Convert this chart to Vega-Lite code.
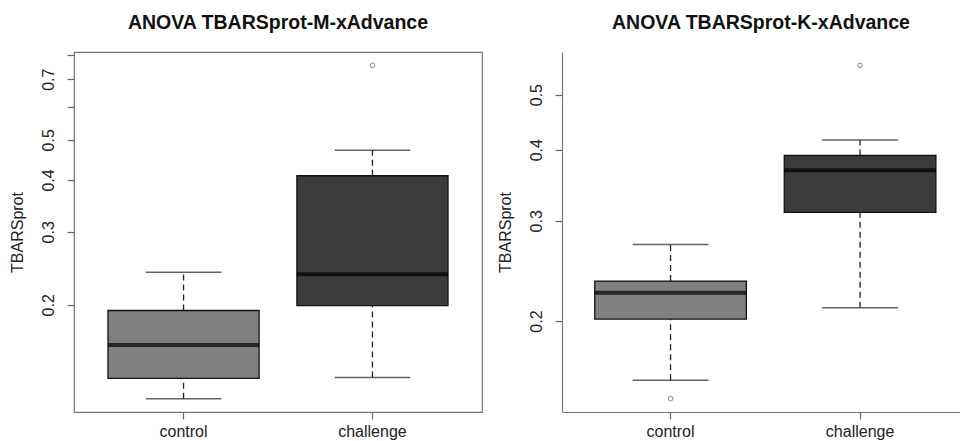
{
  "$schema": "https://vega.github.io/schema/vega-lite/v6.json",
  "background": "white",
  "padding": {"left": 8, "top": 11, "right": 0, "bottom": 0},
  "datasets": {
    "boxes": [
      {"panel": "M", "group": "control", "lo": 0.1188, "q1": 0.1330, "med": 0.1601, "q3": 0.1938, "hi": 0.2397},
      {"panel": "M", "group": "challenge", "lo": 0.1335, "q1": 0.1992, "med": 0.2371, "q3": 0.4095, "hi": 0.4721},
      {"panel": "K", "group": "control", "lo": 0.1574, "q1": 0.2016, "med": 0.2242, "q3": 0.2351, "hi": 0.2727},
      {"panel": "K", "group": "challenge", "lo": 0.2111, "q1": 0.3104, "med": 0.3682, "q3": 0.3908, "hi": 0.4162}
    ],
    "outliers": [
      {"panel": "M", "group": "challenge", "value": 0.756},
      {"panel": "K", "group": "control", "value": 0.1461},
      {"panel": "K", "group": "challenge", "value": 0.5629}
    ]
  },
  "config": {
    "font": "Liberation Sans",
    "view": {"stroke": null},
    "axis": {
      "labelFont": "Liberation Sans", "labelFontSize": 16, "labelColor": "#222",
      "titleFont": "Liberation Sans", "titleFontSize": 16, "titleFontWeight": "normal", "titleColor": "#222",
      "tickColor": "#666", "tickSize": 7, "tickWidth": 1.2, "grid": false, "domain": false,
      "domainColor": "#777", "domainWidth": 1.2
    },
    "axisX": {"labelAngle": 0, "labelPadding": 4},
    "axisY": {"labelAngle": 270, "labelAlign": "center", "labelBaseline": "bottom", "labelPadding": 11, "titlePadding": 15},
    "title": {"font": "Liberation Sans", "fontSize": 19.5, "fontWeight": "bold", "color": "#111", "anchor": "middle", "offset": 19}
  },
  "spacing": 14,
  "hconcat": [
    {
      "width": 408,
      "height": 360,
      "title": "ANOVA TBARSprot-M-xAdvance",
      "view": {"stroke": "#777", "strokeWidth": 1.2},
      "encoding": {
        "x": {"field": "group", "type": "nominal", "sort": ["control", "challenge"],
              "scale": {"type": "band", "domain": ["control", "challenge"], "paddingInner": 0.2, "paddingOuter": 0.18},
              "axis": {"title": null}}
      },
      "layer": [
        {
          "data": {"name": "boxes"}, "transform": [{"filter": "datum.panel === 'M'"}],
          "mark": {"type": "rule", "strokeDash": [6, 4], "color": "#222", "strokeWidth": 1.3},
          "encoding": {
            "y": {"field": "lo", "type": "quantitative", "scale": {"type": "log", "domain": [0.1103, 0.8141], "nice": false},
                  "axis": {"title": "TBARSprot", "values": [0.2, 0.3, 0.4, 0.5, 0.6, 0.7, 0.8], "format": ".1f",
                           "labelExpr": "(datum.value > 0.55 && datum.value < 0.65) || datum.value > 0.75 ? '' : datum.label"}},
            "y2": {"field": "q1"}
          }
        },
        {
          "data": {"name": "boxes"}, "transform": [{"filter": "datum.panel === 'M'"}],
          "mark": {"type": "rule", "strokeDash": [6, 4], "color": "#222", "strokeWidth": 1.3},
          "encoding": {
            "y": {"field": "q3", "type": "quantitative", "scale": {"type": "log", "domain": [0.1103, 0.8141], "nice": false},
                  "axis": {"title": "TBARSprot", "values": [0.2, 0.3, 0.4, 0.5, 0.6, 0.7, 0.8], "format": ".1f",
                           "labelExpr": "(datum.value > 0.55 && datum.value < 0.65) || datum.value > 0.75 ? '' : datum.label"}},
            "y2": {"field": "hi"}
          }
        },
        {
          "data": {"name": "boxes"}, "transform": [{"filter": "datum.panel === 'M'"}],
          "mark": {"type": "tick", "size": 75.6, "thickness": 1.5, "color": "#222"},
          "encoding": {
            "y": {"field": "lo", "type": "quantitative", "scale": {"type": "log", "domain": [0.1103, 0.8141], "nice": false},
                  "axis": {"title": "TBARSprot", "values": [0.2, 0.3, 0.4, 0.5, 0.6, 0.7, 0.8], "format": ".1f",
                           "labelExpr": "(datum.value > 0.55 && datum.value < 0.65) || datum.value > 0.75 ? '' : datum.label"}}
          }
        },
        {
          "data": {"name": "boxes"}, "transform": [{"filter": "datum.panel === 'M'"}],
          "mark": {"type": "tick", "size": 75.6, "thickness": 1.5, "color": "#222"},
          "encoding": {
            "y": {"field": "hi", "type": "quantitative", "scale": {"type": "log", "domain": [0.1103, 0.8141], "nice": false},
                  "axis": {"title": "TBARSprot", "values": [0.2, 0.3, 0.4, 0.5, 0.6, 0.7, 0.8], "format": ".1f",
                           "labelExpr": "(datum.value > 0.55 && datum.value < 0.65) || datum.value > 0.75 ? '' : datum.label"}}
          }
        },
        {
          "data": {"name": "boxes"}, "transform": [{"filter": "datum.panel === 'M'"}],
          "mark": {"type": "bar", "stroke": "#111", "strokeWidth": 1.3},
          "encoding": {
            "y": {"field": "q1", "type": "quantitative", "scale": {"type": "log", "domain": [0.1103, 0.8141], "nice": false},
                  "axis": {"title": "TBARSprot", "values": [0.2, 0.3, 0.4, 0.5, 0.6, 0.7, 0.8], "format": ".1f",
                           "labelExpr": "(datum.value > 0.55 && datum.value < 0.65) || datum.value > 0.75 ? '' : datum.label"}},
            "y2": {"field": "q3"},
            "fill": {"field": "group", "type": "nominal", "scale": {"domain": ["control", "challenge"], "range": ["#808080", "#3c3c3c"]}, "legend": null}
          }
        },
        {
          "data": {"name": "boxes"}, "transform": [{"filter": "datum.panel === 'M'"}],
          "mark": {"type": "tick", "size": 151.1, "thickness": 4, "color": "#000"},
          "encoding": {
            "y": {"field": "med", "type": "quantitative", "scale": {"type": "log", "domain": [0.1103, 0.8141], "nice": false},
                  "axis": {"title": "TBARSprot", "values": [0.2, 0.3, 0.4, 0.5, 0.6, 0.7, 0.8], "format": ".1f",
                           "labelExpr": "(datum.value > 0.55 && datum.value < 0.65) || datum.value > 0.75 ? '' : datum.label"}}
          }
        },
        {
          "data": {"name": "outliers"}, "transform": [{"filter": "datum.panel === 'M'"}],
          "mark": {"type": "point", "shape": "circle", "filled": false, "size": 22, "color": "#555", "strokeWidth": 1},
          "encoding": {
            "y": {"field": "value", "type": "quantitative", "scale": {"type": "log", "domain": [0.1103, 0.8141], "nice": false},
                  "axis": {"title": "TBARSprot", "values": [0.2, 0.3, 0.4, 0.5, 0.6, 0.7, 0.8], "format": ".1f",
                           "labelExpr": "(datum.value > 0.55 && datum.value < 0.65) || datum.value > 0.75 ? '' : datum.label"}}
          }
        }
      ]
    },
    {
      "width": 398,
      "height": 360,
      "title": "ANOVA TBARSprot-K-xAdvance",
      "encoding": {
        "x": {"field": "group", "type": "nominal", "sort": ["control", "challenge"],
              "scale": {"type": "band", "domain": ["control", "challenge"], "paddingInner": 0.2, "paddingOuter": 0.15, "align": 0.576},
              "axis": {"title": null, "domain": true}}
      },
      "layer": [
        {
          "data": {"name": "boxes"}, "transform": [{"filter": "datum.panel === 'K'"}],
          "mark": {"type": "rule", "strokeDash": [6, 4], "color": "#222", "strokeWidth": 1.3},
          "encoding": {
            "y": {"field": "lo", "type": "quantitative", "scale": {"type": "log", "domain": [0.1384, 0.5941], "nice": false},
                  "axis": {"title": "TBARSprot", "values": [0.2, 0.3, 0.4, 0.5], "format": ".1f", "domain": true}},
            "y2": {"field": "q1"}
          }
        },
        {
          "data": {"name": "boxes"}, "transform": [{"filter": "datum.panel === 'K'"}],
          "mark": {"type": "rule", "strokeDash": [6, 4], "color": "#222", "strokeWidth": 1.3},
          "encoding": {
            "y": {"field": "q3", "type": "quantitative", "scale": {"type": "log", "domain": [0.1384, 0.5941], "nice": false},
                  "axis": {"title": "TBARSprot", "values": [0.2, 0.3, 0.4, 0.5], "format": ".1f", "domain": true}},
            "y2": {"field": "hi"}
          }
        },
        {
          "data": {"name": "boxes"}, "transform": [{"filter": "datum.panel === 'K'"}],
          "mark": {"type": "tick", "size": 75.8, "thickness": 1.5, "color": "#222"},
          "encoding": {
            "y": {"field": "lo", "type": "quantitative", "scale": {"type": "log", "domain": [0.1384, 0.5941], "nice": false},
                  "axis": {"title": "TBARSprot", "values": [0.2, 0.3, 0.4, 0.5], "format": ".1f", "domain": true}}
          }
        },
        {
          "data": {"name": "boxes"}, "transform": [{"filter": "datum.panel === 'K'"}],
          "mark": {"type": "tick", "size": 75.8, "thickness": 1.5, "color": "#222"},
          "encoding": {
            "y": {"field": "hi", "type": "quantitative", "scale": {"type": "log", "domain": [0.1384, 0.5941], "nice": false},
                  "axis": {"title": "TBARSprot", "values": [0.2, 0.3, 0.4, 0.5], "format": ".1f", "domain": true}}
          }
        },
        {
          "data": {"name": "boxes"}, "transform": [{"filter": "datum.panel === 'K'"}],
          "mark": {"type": "bar", "stroke": "#111", "strokeWidth": 1.3},
          "encoding": {
            "y": {"field": "q1", "type": "quantitative", "scale": {"type": "log", "domain": [0.1384, 0.5941], "nice": false},
                  "axis": {"title": "TBARSprot", "values": [0.2, 0.3, 0.4, 0.5], "format": ".1f", "domain": true}},
            "y2": {"field": "q3"},
            "fill": {"field": "group", "type": "nominal", "scale": {"domain": ["control", "challenge"], "range": ["#808080", "#3c3c3c"]}, "legend": null}
          }
        },
        {
          "data": {"name": "boxes"}, "transform": [{"filter": "datum.panel === 'K'"}],
          "mark": {"type": "tick", "size": 151.6, "thickness": 4, "color": "#000"},
          "encoding": {
            "y": {"field": "med", "type": "quantitative", "scale": {"type": "log", "domain": [0.1384, 0.5941], "nice": false},
                  "axis": {"title": "TBARSprot", "values": [0.2, 0.3, 0.4, 0.5], "format": ".1f", "domain": true}}
          }
        },
        {
          "data": {"name": "outliers"}, "transform": [{"filter": "datum.panel === 'K'"}],
          "mark": {"type": "point", "shape": "circle", "filled": false, "size": 22, "color": "#555", "strokeWidth": 1},
          "encoding": {
            "y": {"field": "value", "type": "quantitative", "scale": {"type": "log", "domain": [0.1384, 0.5941], "nice": false},
                  "axis": {"title": "TBARSprot", "values": [0.2, 0.3, 0.4, 0.5], "format": ".1f", "domain": true}}
          }
        },
        {
          "mark": {"type": "rule", "color": "#777", "strokeWidth": 1.2},
          "encoding": {
            "x": null,
            "y": {"datum": 0.5941, "type": "quantitative", "scale": {"type": "log", "domain": [0.1384, 0.5941], "nice": false},
                  "axis": {"title": "TBARSprot", "values": [0.2, 0.3, 0.4, 0.5], "format": ".1f", "domain": true}}
          }
        }
      ]
    }
  ]
}
